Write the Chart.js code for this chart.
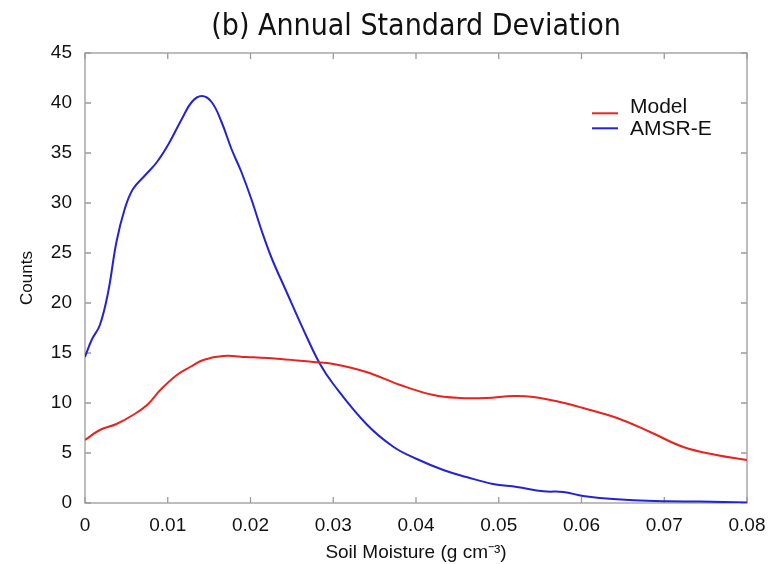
<!DOCTYPE html>
<html>
<head>
<meta charset="utf-8">
<script src="https://cdn.jsdelivr.net/npm/chart.js@4/dist/chart.umd.min.js"></script>
<style>
html,body{margin:0;padding:0;background:#fff;}
#wrap{width:778px;height:564px;position:relative;}
</style>
</head>
<body>
<div id="wrap"><canvas id="c" width="778" height="564"></canvas></div>
<script>
// ---- data ----
const chartTitle = "(b) Annual Standard Deviation";
const xAxisTitle = "Soil Moisture (g cm\u207B\u00B3)";
const yAxisTitle = "Counts";
const seriesNames = ["Model", "AMSR-E"];

const modelX = [0, 0.0018, 0.0038, 0.0058, 0.0075, 0.0091, 0.0111, 0.0127, 0.0143, 0.0167, 0.0195, 0.0236, 0.0276, 0.030, 0.034, 0.0381, 0.0421, 0.0453, 0.0485, 0.0518, 0.0542, 0.0574, 0.0602, 0.0643, 0.0683, 0.0723, 0.0763, 0.08];
const modelY = [6.3, 7.3, 7.9, 8.8, 9.8, 11.3, 12.8, 13.6, 14.3, 14.7, 14.6, 14.4, 14.1, 13.9, 13.1, 11.8, 10.8, 10.5, 10.5, 10.7, 10.6, 10.1, 9.5, 8.5, 7.1, 5.6, 4.8, 4.3];

const amsrX = [0, 0.0008, 0.0018, 0.0028, 0.0038, 0.0048, 0.0058, 0.0073, 0.0087, 0.0101, 0.0117, 0.0129, 0.0141, 0.0153, 0.0165, 0.0177, 0.0189, 0.0201, 0.0214, 0.0226, 0.0242, 0.0268, 0.0284, 0.030, 0.034, 0.0373, 0.0401, 0.0433, 0.0461, 0.0493, 0.0522, 0.0554, 0.0578, 0.0602, 0.0622, 0.0663, 0.0703, 0.0743, 0.08];
const amsrY = [14.6, 16.3, 17.8, 21.1, 26.1, 29.4, 31.4, 32.8, 34.1, 35.9, 38.4, 40.1, 40.7, 40.1, 38.1, 35.4, 33.1, 30.4, 27.1, 24.4, 21.4, 16.6, 13.9, 11.9, 7.9, 5.6, 4.4, 3.3, 2.6, 1.9, 1.6, 1.17, 1.1, 0.7, 0.5, 0.27, 0.17, 0.14, 0.05];

const xMin = 0, xMax = 0.08, xStep = 0.01;
const yMin = 0, yMax = 45, yStep = 5;

// ---- styles ----
const RED = "#e8231f";
const BLUE = "#2323d2";
const AXIS = "#9a9a9a";
const TEXT = "#111";
const SANS = '"Liberation Sans", Arial, sans-serif';

function pts(xs, ys){ return xs.map((x,i)=>({x:x, y:ys[i]})); }

const framePlugin = {
  id: 'frame',
  beforeDatasetsDraw(chart){
    const {ctx, chartArea:a, scales} = chart;
    ctx.save();
    ctx.strokeStyle = AXIS;
    ctx.lineWidth = 1.3;
    ctx.strokeRect(a.left, a.top, a.right - a.left, a.bottom - a.top);
    const tl = 6;
    ctx.beginPath();
    scales.x.ticks.forEach(t => {
      const px = scales.x.getPixelForValue(t.value);
      ctx.moveTo(px, a.bottom); ctx.lineTo(px, a.bottom - tl);
      ctx.moveTo(px, a.top); ctx.lineTo(px, a.top + tl);
    });
    scales.y.ticks.forEach(t => {
      const py = scales.y.getPixelForValue(t.value);
      ctx.moveTo(a.left, py); ctx.lineTo(a.left + tl, py);
      ctx.moveTo(a.right, py); ctx.lineTo(a.right - tl, py);
    });
    ctx.stroke();
    ctx.restore();
  }
};

const legendPlugin = {
  id: 'insideLegend',
  afterDraw(chart){
    const {ctx, chartArea:a} = chart;
    ctx.save();
    ctx.font = '21px ' + SANS;
    ctx.textAlign = 'left';
    ctx.textBaseline = 'middle';
    const x0 = a.right - 155, x1 = a.right - 129, tx = a.right - 117;
    const lineYs = [60.3, 75.3], textYs = [54.5, 76];
    chart.data.datasets.forEach((ds, i) => {
      const ly = a.top + lineYs[i];
      ctx.strokeStyle = ds.borderColor;
      ctx.lineWidth = 2;
      ctx.beginPath(); ctx.moveTo(x0, ly); ctx.lineTo(x1, ly); ctx.stroke();
      ctx.fillStyle = TEXT;
      ctx.fillText(ds.label, tx, a.top + textYs[i]);
    });
    ctx.restore();
  }
};

new Chart(document.getElementById('c'), {
  type: 'line',
  data: {
    datasets: [
      { label: seriesNames[0], data: pts(modelX, modelY), borderColor: RED, backgroundColor: RED,
        borderWidth: 2, pointRadius: 0, tension: 0.4, fill: false },
      { label: seriesNames[1], data: pts(amsrX, amsrY), borderColor: BLUE, backgroundColor: BLUE,
        borderWidth: 2, pointRadius: 0, tension: 0.4, fill: false }
    ]
  },
  options: {
    responsive: false,
    animation: false,
    layout: { padding: { left: 0, right: 31, top: 0, bottom: 0 } },
    plugins: {
      legend: { display: false },
      tooltip: { enabled: false },
      title: {
        display: true, text: chartTitle, fullSize: false, color: TEXT,
        font: { family: '"Liberation Sans Narrow", "DejaVu Sans Condensed", "Liberation Sans", sans-serif', size: 30, weight: 'normal', lineHeight: 1.2 },
        padding: { top: 9, bottom: 8 }
      }
    },
    scales: {
      x: {
        type: 'linear', min: xMin, max: xMax,
        grid: { display: false, drawTicks: false },
        border: { display: false },
        ticks: {
          stepSize: xStep, padding: 11, color: TEXT, maxRotation: 0, autoSkip: false,
          font: { family: SANS, size: 19 },
          callback: v => (Math.abs(v) < 1e-9 ? '0' : Number(v).toFixed(2))
        },
        title: { display: true, text: xAxisTitle, color: TEXT, padding: { top: 1, bottom: 0 },
          font: { family: SANS, size: 19 } },
        afterFit(s){ s.height = 61; }
      },
      y: {
        type: 'linear', min: yMin, max: yMax,
        grid: { display: false, drawTicks: false },
        border: { display: false },
        ticks: {
          stepSize: yStep, padding: 13, color: TEXT,
          font: { family: SANS, size: 19 }
        },
        title: { display: true, text: yAxisTitle, color: TEXT, padding: { top: 17, bottom: 0 },
          font: { family: SANS, size: 17 } },
        afterFit(s){ s.width = 85; }
      }
    }
  },
  plugins: [framePlugin, legendPlugin]
});
</script>
</body>
</html>
